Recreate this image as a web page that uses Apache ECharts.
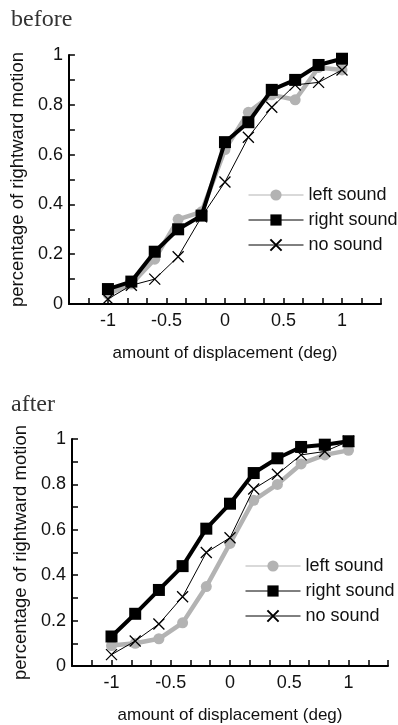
<!DOCTYPE html>
<html>
<head>
<meta charset="utf-8">
<script src="https://cdn.jsdelivr.net/npm/echarts@6/dist/echarts.min.js"></script>
<style>
  html, body { margin: 0; padding: 0; background: #fff; }
  #chart { width: 398px; height: 725px; }
</style>
</head>
<body>
<div id="chart"></div>
<script>
// x positions of the measurements (deg)
const displacement = [-1, -0.8, -0.6, -0.4, -0.2, 0, 0.2, 0.4, 0.6, 0.8, 1];

// before
const beforeLeft  = [0.04, 0.08, 0.18, 0.34, 0.37, 0.62, 0.77, 0.84, 0.82, 0.95, 0.94];
const beforeRight = [0.06, 0.09, 0.21, 0.30, 0.355, 0.65, 0.73, 0.86, 0.90, 0.96, 0.985];
const beforeNone  = [0.02, 0.075, 0.10, 0.19, 0.35, 0.49, 0.67, 0.79, 0.88, 0.89, 0.94];

// after
const afterLeft  = [0.09, 0.10, 0.12, 0.19, 0.35, 0.54, 0.73, 0.80, 0.89, 0.93, 0.95];
const afterRight = [0.13, 0.23, 0.335, 0.44, 0.605, 0.715, 0.85, 0.915, 0.965, 0.975, 0.99];
const afterNone  = [0.05, 0.11, 0.185, 0.305, 0.50, 0.565, 0.78, 0.845, 0.93, 0.945, 0.99];

const xTickLabels = [-1, -0.5, 0, 0.5, 1];
const yTickLabels = [0, 0.2, 0.4, 0.6, 0.8, 1];
const legendNames = ['left sound', 'right sound', 'no sound'];

const GRAY = '#b3b3b3';
const FONT = 'Liberation Sans';
const CROSS = 'path://M0,0 L10,10 M10,0 L0,10';

function pairs(ys) {
  return displacement.map((x, i) => [x, ys[i]]);
}

function pickLabel(list, v) {
  const hit = list.find(t => Math.abs(t - v) < 1e-6);
  return hit === undefined ? '' : String(hit);
}

function xAxisFor(gridIndex) {
  return {
    type: 'value',
    gridIndex: gridIndex,
    min: -8 / 6,
    max: 8 / 6,
    interval: 1 / 6,
    name: 'amount of displacement (deg)',
    nameLocation: 'middle',
    nameGap: 41,
    nameTextStyle: { fontSize: 17, color: '#111', fontFamily: FONT },
    axisLine: { show: true, onZero: false, lineStyle: { color: '#000', width: 2 } },
    axisTick: { show: true, inside: true, length: 6, lineStyle: { color: '#000', width: 1.5 } },
    axisLabel: {
      formatter: v => pickLabel(xTickLabels, v),
      fontSize: 18, color: '#111', fontFamily: FONT, margin: 8
    },
    splitLine: { show: false }
  };
}

function yAxisFor(gridIndex) {
  return {
    type: 'value',
    gridIndex: gridIndex,
    min: 0,
    max: 1,
    interval: 0.1,
    name: 'percentage of rightward motion',
    nameLocation: 'middle',
    nameGap: 38,
    nameTextStyle: { fontSize: 18.5, color: '#111', fontFamily: FONT },
    axisLine: { show: true, onZero: false, lineStyle: { color: '#000', width: 2 } },
    axisTick: { show: true, inside: true, length: 6, lineStyle: { color: '#000', width: 1.5 } },
    axisLabel: {
      formatter: v => pickLabel(yTickLabels, v),
      fontSize: 18, color: '#111', fontFamily: FONT, margin: 6
    },
    splitLine: { show: false }
  };
}

function seriesFor(gridIndex, left, right, none) {
  return [
    {
      name: 'left sound', type: 'line', xAxisIndex: gridIndex, yAxisIndex: gridIndex,
      data: pairs(left), symbol: 'circle', symbolSize: 11,
      lineStyle: { color: GRAY, width: 4.5 },
      itemStyle: { color: GRAY },
      z: 2
    },
    {
      name: 'no sound', type: 'line', xAxisIndex: gridIndex, yAxisIndex: gridIndex,
      data: pairs(none), symbol: CROSS, symbolSize: 11,
      lineStyle: { color: '#000', width: 1 },
      itemStyle: { color: '#000', borderColor: '#000', borderWidth: 1.3 },
      z: 3
    },
    {
      name: 'right sound', type: 'line', xAxisIndex: gridIndex, yAxisIndex: gridIndex,
      data: pairs(right), symbol: 'rect', symbolSize: 12,
      lineStyle: { color: '#000', width: 4 },
      itemStyle: { color: '#000' },
      z: 4
    }
  ];
}

function legendFor(top, left) {
  return {
    orient: 'vertical',
    left: left,
    top: top,
    itemWidth: 55,
    itemHeight: 14,
    itemGap: 7,
    data: legendNames,
    selectedMode: false,
    lineStyle: { width: 1 },
    textStyle: { fontSize: 18, color: '#111', fontFamily: FONT }
  };
}

const titleStyle = { fontFamily: 'Liberation Serif', fontSize: 24, fontWeight: 'normal', color: '#333' };

const chart = echarts.init(document.getElementById('chart'), null, { renderer: 'canvas' });

const option = {
  backgroundColor: '#fff',
  animation: false,
  textStyle: { fontFamily: FONT },
  title: [
    { text: 'before', left: 11, top: 8, padding: 0, textStyle: titleStyle },
    { text: 'after', left: 11, top: 393, padding: 0, textStyle: titleStyle }
  ],
  legend: [legendFor(181, 243), legendFor(552, 240)],
  grid: [
    { left: 67, top: 55, width: 314, height: 249 },
    { left: 72, top: 439, width: 316, height: 232 }
  ],
  xAxis: [xAxisFor(0), xAxisFor(1)],
  yAxis: [yAxisFor(0), yAxisFor(1)],
  series: [
    ...seriesFor(0, beforeLeft, beforeRight, beforeNone),
    ...seriesFor(1, afterLeft, afterRight, afterNone)
  ]
};

chart.setOption(option);
</script>
</body>
</html>
